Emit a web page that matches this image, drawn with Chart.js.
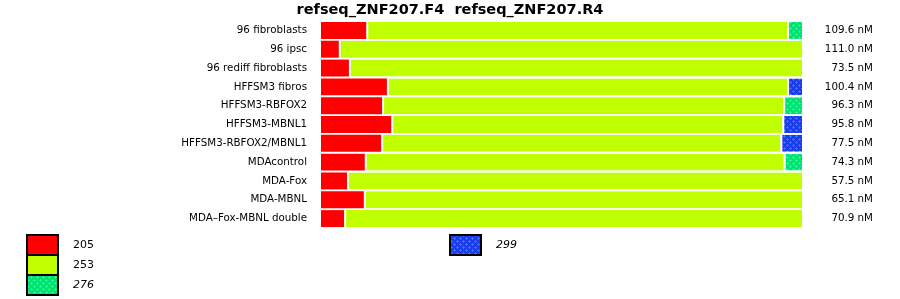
<!DOCTYPE html>
<html>
<head>
<meta charset="utf-8">
<script src="https://cdn.jsdelivr.net/npm/chart.js@4/dist/chart.umd.min.js"></script>
<style>
html,body{margin:0;padding:0;background:#fff;}
#wrap{width:900px;height:299px;position:relative;}
</style>
</head>
<body>
<div id="wrap"><canvas id="c" width="900" height="299"></canvas></div>
<script>
const chartTitle = 'refseq_ZNF207.F4  refseq_ZNF207.R4';
const samples = ['96 fibroblasts','96 ipsc','96 rediff fibroblasts','HFFSM3 fibros','HFFSM3-RBFOX2','HFFSM3-MBNL1','HFFSM3-RBFOX2/MBNL1','MDAcontrol','MDA-Fox','MDA-MBNL','MDA\u2013Fox-MBNL double'];
const concentrations = ['109.6 nM','111.0 nM','73.5 nM','100.4 nM','96.3 nM','95.8 nM','77.5 nM','74.3 nM','57.5 nM','65.1 nM','70.9 nM'];
const sizeNames = ['205','253','276','299'];
const pct205 = [9.4, 3.7, 5.8, 13.7, 12.7, 14.6, 12.5, 9.1, 5.4, 8.9, 4.8];
const pct253 = [87.5, 96.3, 94.2, 83.2, 83.4, 81.3, 83.0, 87.1, 94.6, 91.1, 95.2];
const pct276 = [3.1, 0, 0, 0, 3.9, 0, 0, 3.8, 0, 0, 0];
const pct299 = [0, 0, 0, 3.1, 0, 4.1, 4.5, 0, 0, 0, 0];

function makePattern(base, dot){
  const t = document.createElement('canvas');
  t.width = 6; t.height = 6;
  const g = t.getContext('2d');
  g.fillStyle = base; g.fillRect(0,0,6,6);
  g.fillStyle = dot;
  const plus = (cx, cy) => {
    g.fillRect(cx-1, cy, 3, 1);
    g.fillRect(cx, cy-1, 1, 3);
  };
  plus(1,1); plus(4,4);
  return g.createPattern(t, 'repeat');
}
const ctx0 = document.getElementById('c').getContext('2d');
const greenPat = makePattern('#00e070', '#2ef096');
const bluePat = makePattern('#1a3ce8', '#3a6cff');
const fills = ['#ff0000', '#c0ff00', greenPat, bluePat];

const legendPlugin = {
  id: 'customLegend',
  afterDraw(chart){
    const c = chart.ctx;
    c.save();
    // title, centred on the full canvas width
    c.fillStyle = '#000';
    c.font = 'bold 14.5px "DejaVu Sans"';
    c.textAlign = 'center';
    c.textBaseline = 'alphabetic';
    c.fillText(chartTitle, 450, 13.5);
    const items = [
      {x:27, y:235, i:0, italic:false},
      {x:27, y:255, i:1, italic:false},
      {x:27, y:275, i:2, italic:true},
      {x:450, y:235, i:3, italic:true}
    ];
    items.forEach(it => {
      c.fillStyle = fills[it.i];
      c.fillRect(it.x, it.y, 31, 20);
      c.lineWidth = 2;
      c.strokeStyle = '#000';
      c.strokeRect(it.x, it.y, 31, 20);
      c.fillStyle = '#000';
      c.font = (it.italic ? 'italic ' : '') + '11px "DejaVu Sans"';
      c.textAlign = 'left';
      c.textBaseline = 'middle';
      c.fillText(sizeNames[it.i], it.x + 46, it.y + 10);
    });
    c.restore();
  }
};

const values = [pct205, pct253, pct276, pct299];
const datasets = values.map((v, i) => ({
  label: sizeNames[i],
  data: v,
  backgroundColor: fills[i],
  borderColor: '#ffffff',
  borderWidth: i === 0 ? 0 : {left:2, right:0, top:0, bottom:0},
  borderSkipped: false,
  barPercentage: 0.9,
  categoryPercentage: 1.0,
  yAxisID: 'y'
}));

function noPad(s){ s.paddingTop = 0; s.paddingBottom = 0; }

new Chart(ctx0, {
  type: 'bar',
  data: { labels: samples, datasets },
  options: {
    indexAxis: 'y',
    responsive: false,
    animation: false,
    layout: { padding: { top: 21, bottom: 71, left: 0, right: 27 } },
    plugins: {
      legend: { display: false },
      tooltip: { enabled: false },
      title: { display: false }
    },
    scales: {
      x: { stacked: true, min: 0, max: 100, display: false },
      y: {
        stacked: true,
        position: 'left',
        grid: { display: false, drawTicks: false },
        border: { display: false },
        ticks: { color: '#000', font: { family: 'DejaVu Sans', size: 10.3 }, padding: 14, autoSkip: false },
        afterFit(s){ s.width = 321; noPad(s); }
      },
      y2: {
        type: 'category',
        labels: concentrations,
        position: 'right',
        offset: true,
        grid: { display: false, drawTicks: false },
        border: { display: false },
        ticks: { color: '#000', font: { family: 'DejaVu Sans', size: 10.3 }, padding: 21, crossAlign: 'far', autoSkip: false },
        afterFit(s){ s.width = 71; noPad(s); }
      }
    }
  },
  plugins: [legendPlugin]
});
</script>
</body>
</html>
